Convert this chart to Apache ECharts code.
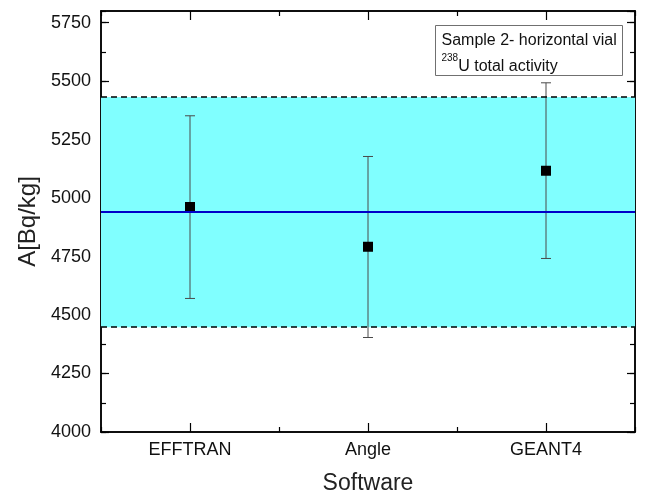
<!DOCTYPE html>
<html>
<head>
<meta charset="utf-8">
<script src="https://cdn.jsdelivr.net/npm/echarts@6/dist/echarts.min.js"></script>
<style>
  html, body { margin: 0; padding: 0; background: #ffffff; overflow: hidden; }
  #chart { width: 654px; height: 500px; }
</style>
</head>
<body>
<div id="chart"></div>
<script>
// Software packages compared
const categories = ['EFFTRAN', 'Angle', 'GEANT4'];
// Activity values and uncertainty limits, Bq/kg
const activity = [4962, 4792, 5117];
const errLow = [4571, 4404, 4742];
const errHigh = [5352, 5178, 5493];
// Mean value and its uncertainty band
const meanValue = 4940;
const bandLow = 4448;
const bandHigh = 5432;
// Value axis range
const yMin = 4000;
const yMax = 5800;
const yStep = 250;

const FONT = 'Liberation Sans, Arial, sans-serif';

const chart = echarts.init(document.getElementById('chart'), null, { renderer: 'canvas', width: 654, height: 500 });

const frameLine = { show: true, onZero: false, lineStyle: { color: '#000', width: 1.5 } };

function catAxis(pos, centred, showLabel, tickLen) {
  return {
    type: 'category',
    data: categories,
    position: pos,
    boundaryGap: true,
    axisLine: frameLine,
    axisTick: { show: true, inside: true, alignWithLabel: centred, length: tickLen, lineStyle: { color: '#000', width: 1.2 } },
    axisLabel: { show: showLabel, color: '#111', fontFamily: FONT, fontSize: 18, margin: 9 },
    splitLine: { show: false }
  };
}

function valAxis(pos, step, showLabel, tickLen) {
  return {
    type: 'value',
    position: pos,
    min: yMin,
    max: yMax,
    interval: step,
    axisLine: frameLine,
    axisTick: { show: true, inside: true, length: tickLen, lineStyle: { color: '#000', width: 1.2 } },
    axisLabel: {
      show: showLabel, showMaxLabel: false, color: '#111', fontFamily: FONT, fontSize: 18, margin: 10,
      formatter: function (v) { return String(v); }
    },
    splitLine: { show: false }
  };
}

const xAxes = [
  Object.assign(catAxis('bottom', true, true, 9), {
    name: 'Software', nameLocation: 'middle', nameGap: 40,
    nameTextStyle: { color: '#222', fontFamily: FONT, fontSize: 23 }
  }),
  catAxis('bottom', false, false, 5),
  catAxis('top', true, false, 9),
  catAxis('top', false, false, 5)
];

const yAxes = [
  Object.assign(valAxis('left', yStep, true, 8), {
    name: 'A[Bq/kg]', nameLocation: 'middle', nameGap: 58,
    nameTextStyle: { color: '#222', fontFamily: FONT, fontSize: 24 }
  }),
  valAxis('left', yStep / 2, false, 5),
  valAxis('right', yStep, false, 8),
  valAxis('right', yStep / 2, false, 5)
];

const option = {
  backgroundColor: '#ffffff',
  animation: false,
  grid: { left: 101, width: 534, top: 11, height: 429 },
  xAxis: xAxes,
  yAxis: yAxes,
  series: [
    {
      // uncertainty band with its limits and the mean line
      type: 'line',
      xAxisIndex: 0,
      yAxisIndex: 0,
      data: [],
      z: 1,
      silent: true,
      markArea: {
        silent: true,
        itemStyle: { color: '#80ffff' },
        data: [[{ yAxis: bandLow }, { yAxis: bandHigh }]]
      },
      markLine: {
        silent: true,
        symbol: ['none', 'none'],
        label: { show: false },
        data: [
          { yAxis: bandLow, lineStyle: { color: '#000', type: [6, 4], width: 1.5 } },
          { yAxis: bandHigh, lineStyle: { color: '#000', type: [6, 4], width: 1.5 } },
          { yAxis: meanValue, lineStyle: { color: '#0000c8', type: 'solid', width: 2.2 } }
        ]
      }
    },
    {
      // error bars
      type: 'custom',
      xAxisIndex: 0,
      yAxisIndex: 0,
      z: 3,
      data: categories.map((c, i) => [i, errLow[i], errHigh[i]]),
      renderItem: function (params, api) {
        const lo = api.coord([api.value(0), api.value(1)]);
        const hi = api.coord([api.value(0), api.value(2)]);
        const cap = 5;
        const style = { stroke: '#4a4a4a', lineWidth: 1 };
        return {
          type: 'group',
          children: [
            { type: 'line', shape: { x1: lo[0], y1: lo[1], x2: hi[0], y2: hi[1] }, style: style },
            { type: 'line', shape: { x1: lo[0] - cap, y1: lo[1], x2: lo[0] + cap, y2: lo[1] }, style: style },
            { type: 'line', shape: { x1: hi[0] - cap, y1: hi[1], x2: hi[0] + cap, y2: hi[1] }, style: style }
          ]
        };
      }
    },
    {
      type: 'scatter',
      xAxisIndex: 0,
      yAxisIndex: 0,
      z: 4,
      symbol: 'rect',
      symbolSize: 10,
      itemStyle: { color: '#000', opacity: 1 },
      data: activity
    }
  ],
  graphic: [
    {
      type: 'group',
      left: 435,
      top: 25,
      z: 10,
      children: [
        {
          type: 'rect',
          shape: { x: 0, y: 0, width: 187, height: 50 },
          style: { fill: '#ffffff', stroke: '#707070', lineWidth: 1 }
        },
        {
          type: 'text',
          x: 6,
          y: 2,
          style: {
            text: 'Sample 2- horizontal vial\n{sup|238}{m|U total activity}',
            fill: '#111',
            font: '16px ' + FONT,
            lineHeight: 26,
            rich: {
              sup: { fontSize: 10, fontFamily: FONT, fill: '#111', verticalAlign: 'top', lineHeight: 26 },
              m: { fontSize: 16, fontFamily: FONT, fill: '#111', lineHeight: 26 }
            }
          }
        }
      ]
    }
  ]
};

chart.setOption(option);
</script>
</body>
</html>
